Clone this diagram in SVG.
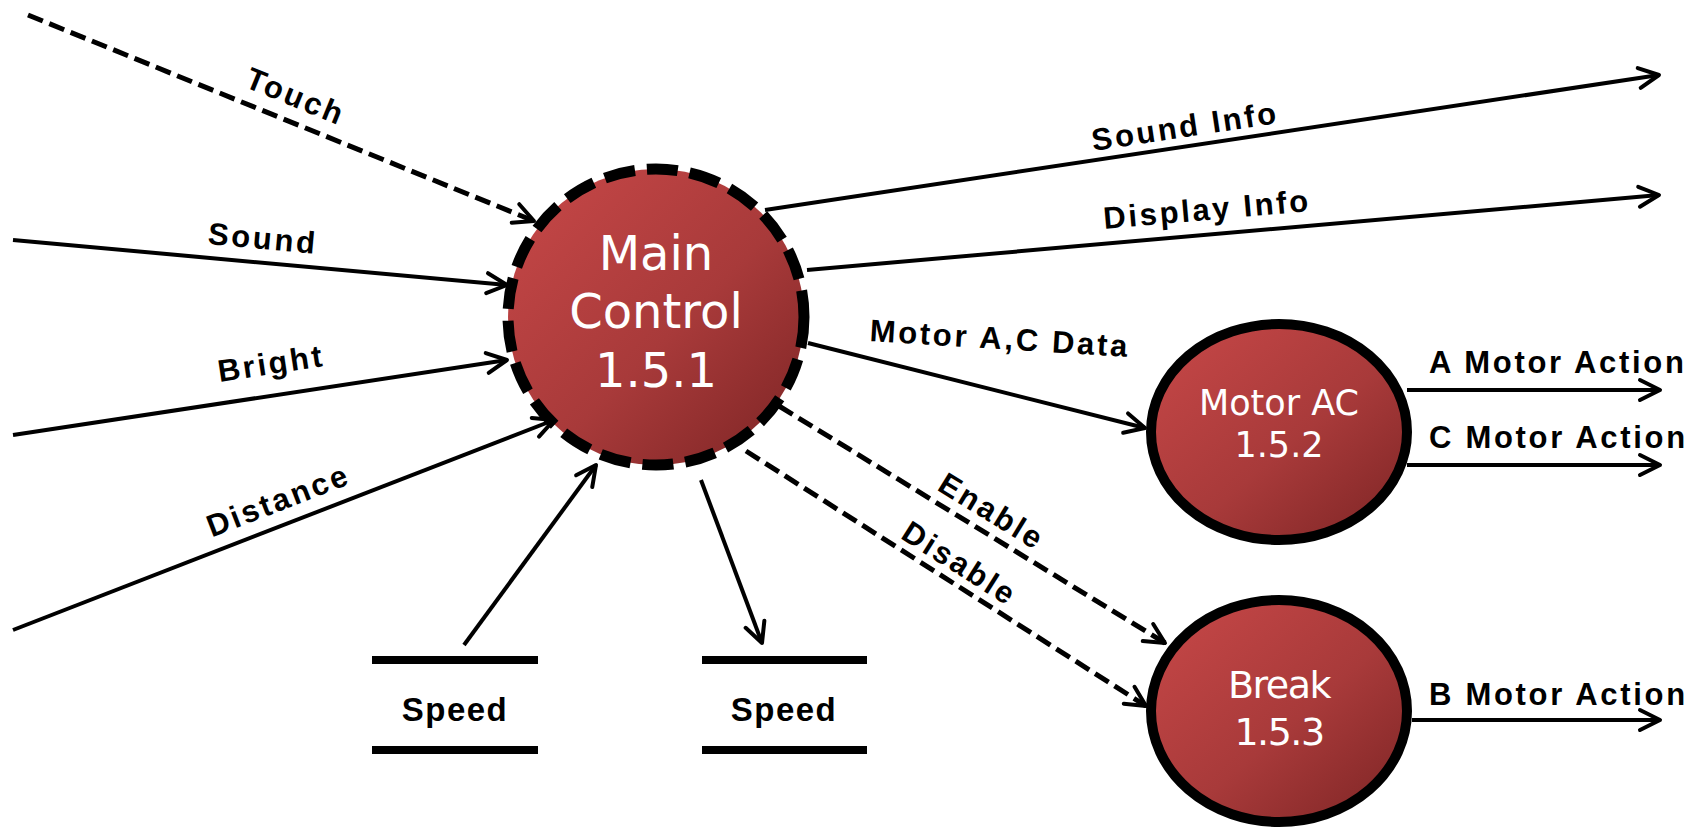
<svg xmlns="http://www.w3.org/2000/svg" width="1701" height="830" viewBox="0 0 1701 830">
<style>
.lbl{font-family:"Liberation Sans",Arial,sans-serif;font-weight:bold;font-size:31px;letter-spacing:2.7px;fill:#000}
.spd{font-family:"Liberation Sans",Arial,sans-serif;font-weight:bold;font-size:33px;letter-spacing:1.5px;fill:#000}
.ntxt{font-family:"DejaVu Sans","Open Sans",sans-serif;font-weight:400;fill:#fff;text-anchor:middle}
.ln{fill:none;stroke:#000;stroke-width:4;marker-end:url(#arr)}
.dash{stroke-width:5;stroke-dasharray:16 7}
.store{stroke:#000;stroke-width:8}
</style>
<defs>
<linearGradient id="red" x1="0" y1="0" x2="1" y2="1">
<stop offset="0" stop-color="#c84848"/>
<stop offset="0.55" stop-color="#a83a3a"/>
<stop offset="1" stop-color="#7c2424"/>
</linearGradient>
<marker id="arr" viewBox="-24 -14 28 28" markerWidth="28" markerHeight="28" refX="0" refY="0" orient="auto" markerUnits="userSpaceOnUse">
<path d="M-20,-10 L0,0 L-20,10" fill="none" stroke="#000" stroke-width="4" stroke-linecap="round" stroke-linejoin="round"/>
</marker>
</defs>
<rect width="1701" height="830" fill="#fff"/>

<g id="main-control">
<circle cx="656" cy="317" r="148" fill="url(#red)" stroke="#000" stroke-width="11" stroke-dasharray="31 12"/>
<text class="ntxt" font-size="48"><tspan x="656" y="270">Main</tspan><tspan x="656" y="328">Control</tspan><tspan x="656" y="387">1.5.1</tspan></text>
</g>

<g id="motor-ac">
<ellipse cx="1279" cy="432" rx="128" ry="108" fill="url(#red)" stroke="#000" stroke-width="10"/>
<text class="ntxt" font-size="35"><tspan x="1279" y="415">Motor AC</tspan><tspan x="1279" y="457">1.5.2</tspan></text>
</g>

<g id="break">
<ellipse cx="1279" cy="711" rx="128" ry="111" fill="url(#red)" stroke="#000" stroke-width="10"/>
<text class="ntxt" font-size="38" letter-spacing="-1.5"><tspan x="1279" y="698">Break</tspan><tspan x="1279" y="745">1.5.3</tspan></text>
</g>

<g id="speed-store-in">
<line class="store" x1="372" y1="660" x2="538" y2="660"/>
<line class="store" x1="372" y1="750" x2="538" y2="750"/>
<text class="spd" x="455" y="721" text-anchor="middle">Speed</text>
</g>

<g id="speed-store-out">
<line class="store" x1="702" y1="660" x2="867" y2="660"/>
<line class="store" x1="702" y1="750" x2="867" y2="750"/>
<text class="spd" x="784" y="721" text-anchor="middle">Speed</text>
</g>

<g id="connectors">
<line class="ln dash" x1="28" y1="15" x2="534" y2="221"/>
<line class="ln" x1="13" y1="240" x2="507" y2="285"/>
<line class="ln" x1="13" y1="435" x2="507" y2="360"/>
<line class="ln" x1="13" y1="630" x2="554" y2="420"/>
<line class="ln" x1="464" y1="645" x2="596" y2="465"/>
<line class="ln" x1="701" y1="480" x2="762" y2="643"/>
<line class="ln" x1="765" y1="210" x2="1659" y2="75"/>
<line class="ln" x1="807" y1="270" x2="1659" y2="195"/>
<line class="ln" x1="808" y1="343" x2="1145" y2="428"/>
<line class="ln dash" x1="779" y1="406" x2="1165" y2="643"/>
<line class="ln dash" x1="746" y1="451" x2="1146" y2="706"/>
<line class="ln" x1="1407" y1="390" x2="1660" y2="390"/>
<line class="ln" x1="1407" y1="465" x2="1660" y2="465"/>
<line class="ln" x1="1412" y1="720" x2="1660" y2="720"/>

<text class="lbl" text-anchor="middle" transform="translate(296,96) rotate(22.2)" y="11">Touch</text>
<text class="lbl" text-anchor="middle" transform="translate(263,238) rotate(5.2)" y="11">Sound</text>
<text class="lbl" text-anchor="middle" transform="translate(271,363) rotate(-8.6)" y="11">Bright</text>
<text class="lbl" text-anchor="middle" transform="translate(278,500) rotate(-21.2)" y="11">Distance</text>
<text class="lbl" text-anchor="middle" transform="translate(1185,126) rotate(-8.6)" y="11">Sound Info</text>
<text class="lbl" text-anchor="middle" transform="translate(1207,209) rotate(-5)" y="11">Display Info</text>
<text class="lbl" text-anchor="middle" transform="translate(1000,338) rotate(3.5)" y="11">Motor A,C Data</text>
<text class="lbl" text-anchor="middle" transform="translate(992,511) rotate(31.5)" y="11">Enable</text>
<text class="lbl" text-anchor="middle" transform="translate(960,563) rotate(32.4)" y="11">Disable</text>
<text class="lbl" x="1429" y="373">A Motor Action</text>
<text class="lbl" x="1429" y="448">C Motor Action</text>
<text class="lbl" x="1429" y="705">B Motor Action</text>
</g>
</svg>
